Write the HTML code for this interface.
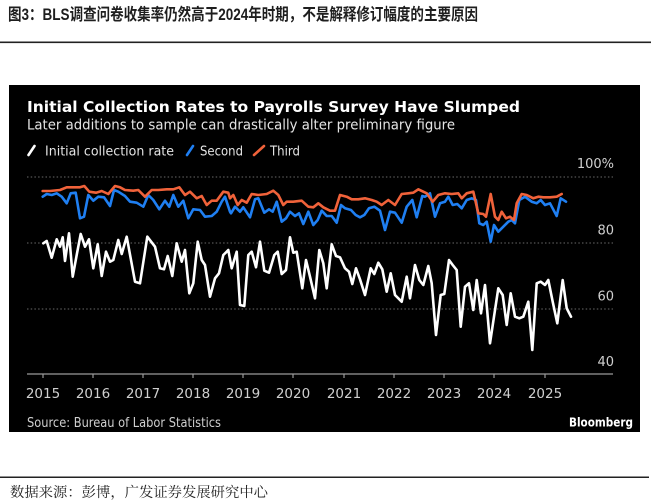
<!DOCTYPE html>
<html><head><meta charset="utf-8">
<style>
html,body{margin:0;padding:0;background:#fff;width:651px;height:500px;overflow:hidden}
svg{display:block}
</style></head>
<body>
<svg width="651" height="500" viewBox="0 0 651 500" xmlns="http://www.w3.org/2000/svg">
<rect width="651" height="500" fill="#fff"/>
<text x="8" y="20" font-family="'Liberation Sans','Noto Sans CJK SC',sans-serif" font-size="16.5" font-weight="bold" fill="#1e1e1e" textLength="470" lengthAdjust="spacingAndGlyphs">图3：BLS调查问卷收集率仍然高于2024年时期，不是解释修订幅度的主要原因</text>
<rect x="0" y="41.5" width="651" height="1.6" fill="#222"/>
<rect x="9" y="85" width="631" height="347" fill="#000"/>
<text x="27" y="112" font-family="'DejaVu Sans',sans-serif" font-size="15" font-weight="bold" fill="#fff" textLength="493" lengthAdjust="spacingAndGlyphs">Initial Collection Rates to Payrolls Survey Have Slumped</text>
<text x="27" y="129.5" font-family="'DejaVu Sans',sans-serif" font-size="14" fill="#e4e4e4" textLength="428" lengthAdjust="spacingAndGlyphs">Later additions to sample can drastically alter preliminary figure</text>
<g stroke-width="2.6" stroke-linecap="round">
<line x1="28.5" y1="155" x2="34.5" y2="146" stroke="#fff"/>
<line x1="187" y1="155" x2="193" y2="146" stroke="#1f7ff2"/>
<line x1="254" y1="155" x2="264" y2="146" stroke="#f0623a"/>
</g>
<g font-family="'DejaVu Sans',sans-serif" font-size="13.5" fill="#e4e4e4">
<text x="45" y="155.5" textLength="129" lengthAdjust="spacingAndGlyphs">Initial collection rate</text>
<text x="200" y="155.5" textLength="43" lengthAdjust="spacingAndGlyphs">Second</text>
<text x="270" y="155.5" textLength="30" lengthAdjust="spacingAndGlyphs">Third</text>
</g>
<g stroke="#6a6a6a" stroke-width="1" stroke-dasharray="1.5,2.2">
<line x1="27" y1="177" x2="613" y2="177"/>
<line x1="27" y1="243" x2="613" y2="243"/>
<line x1="27" y1="309" x2="613" y2="309"/>
</g>
<g font-family="'DejaVu Sans',sans-serif" font-size="13" fill="#cfcfcf" text-anchor="end">
<text x="614" y="168">100<tspan>%</tspan></text>
<text x="614" y="234.5">80</text>
<text x="614" y="300.5">60</text>
<text x="614" y="366">40</text>
</g>
<line x1="27" y1="374" x2="613" y2="374" stroke="#9a9a9a" stroke-width="1.2"/>
<g stroke="#9a9a9a" stroke-width="1.2">
<line x1="43" y1="374" x2="43" y2="378"/><line x1="93" y1="374" x2="93" y2="378"/><line x1="143" y1="374" x2="143" y2="378"/><line x1="193" y1="374" x2="193" y2="378"/><line x1="243" y1="374" x2="243" y2="378"/><line x1="293" y1="374" x2="293" y2="378"/><line x1="344" y1="374" x2="344" y2="378"/><line x1="394" y1="374" x2="394" y2="378"/><line x1="444" y1="374" x2="444" y2="378"/><line x1="494" y1="374" x2="494" y2="378"/><line x1="545" y1="374" x2="545" y2="378"/>
</g>
<g font-family="'DejaVu Sans',sans-serif" font-size="13.5" fill="#cfcfcf" text-anchor="middle">
<text x="43" y="398">2015</text><text x="93" y="398">2016</text><text x="143" y="398">2017</text><text x="193" y="398">2018</text><text x="243" y="398">2019</text><text x="293" y="398">2020</text><text x="344" y="398">2021</text><text x="394" y="398">2022</text><text x="444" y="398">2023</text><text x="494" y="398">2024</text><text x="545" y="398">2025</text>
</g>
<text x="27" y="427" font-family="'DejaVu Sans',sans-serif" font-size="13" fill="#cfcfcf" textLength="194" lengthAdjust="spacingAndGlyphs">Source: Bureau of Labor Statistics</text>
<text x="633" y="426.5" font-family="'DejaVu Sans',sans-serif" font-size="12.5" font-weight="bold" fill="#fff" text-anchor="end" textLength="64" lengthAdjust="spacingAndGlyphs">Bloomberg</text>
<g fill="none" stroke-width="2.6" stroke-linejoin="round" stroke-linecap="round">
<polyline stroke="#fff" points="43.3,243.3 46.7,241 51.7,257.7 56.7,239.3 60,246.7 62.7,237.3 65,261 69,233.3 72.7,276.7 76.7,255 80.7,234 85,246.7 89,239.3 93.3,268.3 97.7,244.3 101.7,276 106,251.7 110,261.7 113.3,260 118.3,240 121.7,254 126.7,236.7 135,281.7 140,283.3 147.3,236.7 155,246.7 160,268.3 164,269.3 167.7,256 172.3,276 176.7,243.3 181.7,261.7 185,250 189.3,293.3 193.3,283.3 197.7,241.7 201.7,260 205,265 210,296.7 215,278.3 219,273.3 223.3,255 226.7,251.7 228.3,250 231.7,268.3 236.7,251.7 240,305 244.3,306 248.3,255 251.7,251.7 256,267.3 260,241.7 264.3,270.7 269,272.7 274.3,255 277.7,251.7 281.7,274 286,270 290,237.3 293.3,252.7 296.7,251.7 302.3,288.3 306,260 310,276.7 315,298.3 319.3,250 323.3,263.3 326.7,288.3 331.7,244.3 336,256 340,257.3 345,268.3 349,271.7 352.3,284 356,268.3 360,279.3 365,295 370.7,268.3 374.3,274 378.3,262.7 382.3,269.3 386.7,291.7 390.7,273.3 395,295 401.7,301.7 406.7,276.7 410,298.3 415,265 419.3,280 423.3,285 428.3,266 431.7,283.3 436,335 440.7,295 444.3,294 449,260 452.7,265 456.7,270 460.7,326.7 465,286.7 469,283.3 473.3,310 476.7,280 481,313.3 485,285 490,343.3 494,316.7 498.3,288.3 502.7,295 506.7,325 510.7,293.3 515,316.7 519.3,318.3 523.3,316.7 528.3,301.7 532.3,350 536.7,283.3 540.7,281.7 545,285 548.3,280 552.7,301.7 557.3,323.3 562.7,280 566.7,308.3 571,316.7"/>
<polyline stroke="#1f7ff2" points="42.7,196.7 46.7,194 51.7,195 56.7,193.3 61.7,196.7 66.7,203.3 70.7,193.3 75.7,192.7 80,218.3 84,216.7 88.3,195 93.3,200.7 98.3,196.7 104,197.3 110,206 114,190 118.3,191.7 125,196 130,201.7 136.7,202.7 143.3,206.7 148.3,195 153.3,200 159.3,209.3 165,200.7 169.3,206.7 173.3,195 178.3,206.7 183.3,200.7 188.3,218.3 193.3,209.3 200,210 205,216.7 211.7,216 216.7,211.7 221.7,201.7 225,196.7 230,211.7 231,213.3 235,206.7 240,211.7 243.3,207.3 250,217.3 255,199.3 258.3,198.3 264.3,212.7 269,209.3 272.7,211.7 276.7,201.7 281.7,221.7 286,218.3 290,211.7 295,216 299,213.3 303.3,224 308.3,211.7 313.3,225 317.7,220 321.7,210.7 326.7,216 331.7,216 336.7,222.7 341,205 345,208.3 351,210 355.7,215 360,217.3 364.3,215 369,208.3 374.3,206.7 380,210.7 385,230 390,211.7 395,212.7 401.7,222.7 406.7,206.7 412.3,200 416.7,217.3 422.3,196 425,196.7 430,193.3 435,216.7 440,203.3 445,201.7 448.3,196.7 452.7,205 457.3,204 461.7,208.3 466.7,200 471.7,198.3 476,200 479.3,223.3 483.3,225 486.7,221.7 490.7,241.7 494,225 498.3,231.7 503.3,226.7 508.3,221.7 511.7,220 515,223.3 519.3,200 525,196.7 531.7,201.7 536.7,203.3 540.7,200 545,205 550,203.3 556.7,216 560.7,198.3 566,201.7"/>
<polyline stroke="#f0623a" points="42.7,191 50,191 60,190 66.7,187.3 73.3,187.3 80,187.3 84.3,186 89.3,191.7 96,192.7 101.7,191 108.3,194 115,186 120,187.3 125,190 133.3,190.7 138.3,190 145,196.7 151.7,190 158.3,190 166.7,189.3 173.3,189.3 179.3,187.3 185,195 190,191.7 196.7,198.3 201.7,196 206.7,205 211.7,200.7 216.7,200.7 223.3,191.7 228.3,192.7 230,198.3 233.3,195 237.7,205 241.7,200 246.7,202.7 251.7,194 258.3,195 266.7,194 273.3,190.7 278.3,195 283.3,205 286.7,201.7 293.3,201.7 301.7,200.7 308.3,206.7 313.3,207.3 318.3,203.3 323.3,207.3 330,210.7 335,210.7 340,195 346.7,196.7 351.7,199.3 358.3,199.3 365,198.3 371.7,200 376.7,201.7 381.7,205 388.3,200 395,205 401.7,194 408.3,193.3 413.3,192.7 418.3,189.3 423.3,191.7 426.7,193.3 432.7,201.7 438.3,195 445,193.3 451.7,194 458.3,193.3 461.7,198.3 466.7,193.3 473.3,191.7 478.3,213.3 483.3,214 486,216.7 490.7,194 495,216.7 498.3,220 501.7,211.7 506,218.3 510,216.7 514,220 516.7,203.3 521.7,194 526.7,195 533.3,198.3 538.3,196.7 543.3,197.3 550,197.3 556.7,196.7 561.7,194"/>
</g>
<rect x="0" y="476.5" width="649" height="1.5" fill="#222"/>
<text x="10" y="497" font-family="'Noto Serif CJK SC','Liberation Serif',serif" font-size="14" fill="#222" textLength="258" lengthAdjust="spacingAndGlyphs">数据来源：彭博，广发证券发展研究中心</text>
</svg>
</body></html>
